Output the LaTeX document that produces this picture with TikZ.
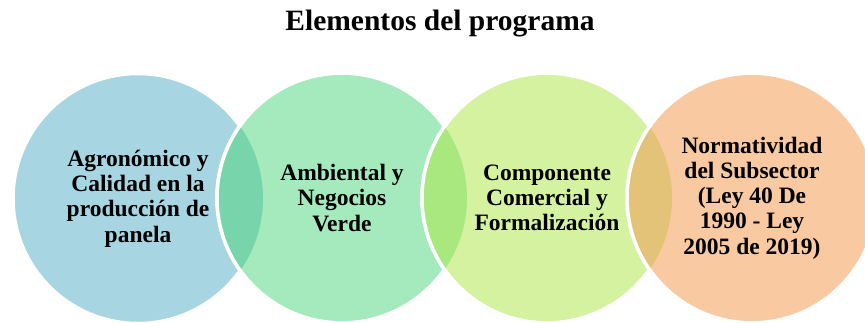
\documentclass[tikz,border=0pt]{standalone}
\usepackage{fontspec}
\setmainfont{Liberation Serif}
\definecolor{cA}{HTML}{A7D5E2}
\definecolor{cB}{HTML}{A4EABC}
\definecolor{cC}{HTML}{D4F2A0}
\definecolor{cD}{HTML}{F9C9A1}
\definecolor{oAB}{HTML}{78D4AB}
\definecolor{oBC}{HTML}{A8E87F}
\definecolor{oCD}{HTML}{E2C378}
\tikzset{
  elem/.style={circle, minimum size=250pt, inner sep=0pt, draw=white, line width=3.5pt,
    align=center, font=\bfseries\fontsize{23.5}{25.3}\selectfont, text=black},
  rim/.style={draw=white, line width=3.5pt},
  titletext/.style={font=\bfseries\fontsize{29.5}{34}\selectfont, text=black}
}
\begin{document}
\begin{tikzpicture}[x=1pt,y=1pt]
\clip (0,0) rectangle (865,-322);
\fill[white] (0,0) rectangle (865,-322);
\node[titletext] (title) at (440,-24) {Elementos del programa};
\node[elem, fill=cA] (a) at (138,-198.5) {Agronómico y\\Calidad en la\\producción de\\panela};
\node[elem, fill=cB] (b) at (342,-198) {Ambiental y\\Negocios\\Verde};
\begin{scope}
  \clip (a.center) circle (125);
  \fill[oAB] (b.center) circle (125);
\end{scope}
\draw[rim] (b.center) circle (125);
\node[elem, fill=cC] (c) at (547,-198) {Componente\\Comercial y\\Formalización};
\begin{scope}
  \clip (b.center) circle (125);
  \fill[oBC] (c.center) circle (125);
\end{scope}
\draw[rim] (c.center) circle (125);
\node[elem, fill=cD] (d) at (752,-198) {Normatividad\\del Subsector\\(Ley 40 De\\1990 - Ley\\2005 de 2019)};
\begin{scope}
  \clip (c.center) circle (125);
  \fill[oCD] (d.center) circle (125);
\end{scope}
\draw[rim] (d.center) circle (125);
\end{tikzpicture}
\end{document}
